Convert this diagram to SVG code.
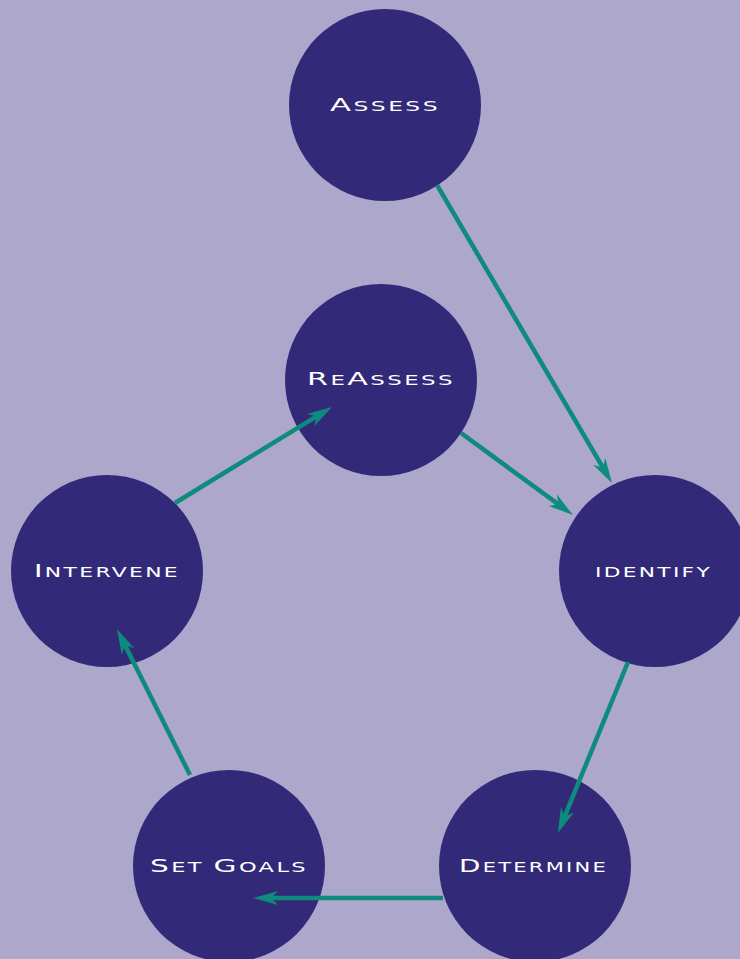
<svg xmlns="http://www.w3.org/2000/svg" width="740" height="959" viewBox="0 0 740 959">
<style>
.bg{fill:#ACA7CB}
.node circle{fill:#322A78}
.node text{fill:#FFFFFF;font-family:"DejaVu Sans","Liberation Sans",sans-serif;font-size:14px;letter-spacing:1.5px;text-anchor:middle}
.node .cap{font-size:18.5px}
.conn line{stroke:#0E8B7C;stroke-width:4.5;fill:none}
</style>
<defs>
<marker id="ah" markerUnits="userSpaceOnUse" viewBox="-16 -8 28 16" refX="0" refY="0" markerWidth="28" markerHeight="16" orient="auto" overflow="visible">
<path d="M10,0 L-15,-7 L-8,0 L-15,7 Z" fill="#0E8B7C"/>
</marker>
</defs>
<rect class="bg" x="0" y="0" width="740" height="959"/>
<g id="n-assess" class="node">
<circle cx="385" cy="105" r="96"/>
<text x="385" y="111" textLength="110" lengthAdjust="spacingAndGlyphs"><tspan class="cap">A</tspan>SSESS</text>
</g>
<g id="n-reassess" class="node">
<circle cx="381" cy="380" r="96"/>
<text x="381" y="385" textLength="148" lengthAdjust="spacingAndGlyphs"><tspan class="cap">R</tspan>E<tspan class="cap">A</tspan>SSESS</text>
</g>
<g id="n-intervene" class="node">
<circle cx="107" cy="571" r="96"/>
<text x="107" y="577" textLength="146" lengthAdjust="spacingAndGlyphs"><tspan class="cap">I</tspan>NTERVENE</text>
</g>
<g id="n-identify" class="node">
<circle cx="655" cy="571" r="96"/>
<text x="653.5" y="577" textLength="117" lengthAdjust="spacingAndGlyphs">IDENTIFY</text>
</g>
<g id="n-setgoals" class="node">
<circle cx="229" cy="866" r="96"/>
<text x="229" y="872" textLength="158" lengthAdjust="spacingAndGlyphs"><tspan class="cap">S</tspan>ET <tspan class="cap">G</tspan>OALS</text>
</g>
<g id="n-determine" class="node">
<circle cx="535" cy="866" r="96"/>
<text x="533.5" y="872" textLength="149" lengthAdjust="spacingAndGlyphs"><tspan class="cap">D</tspan>ETERMINE</text>
</g>
<g id="connectors" class="conn">
<line x1="437" y1="185" x2="606.9" y2="474.4" marker-end="url(#ah)"/>
<line x1="461" y1="433" x2="564.9" y2="509.1" marker-end="url(#ah)"/>
<line x1="628" y1="662" x2="561.7" y2="823.7" marker-end="url(#ah)"/>
<line x1="443" y1="898" x2="263" y2="898" marker-end="url(#ah)"/>
<line x1="190" y1="775" x2="121.4" y2="638" marker-end="url(#ah)"/>
<line x1="175" y1="503" x2="323.5" y2="412.2" marker-end="url(#ah)"/>
</g>
</svg>
